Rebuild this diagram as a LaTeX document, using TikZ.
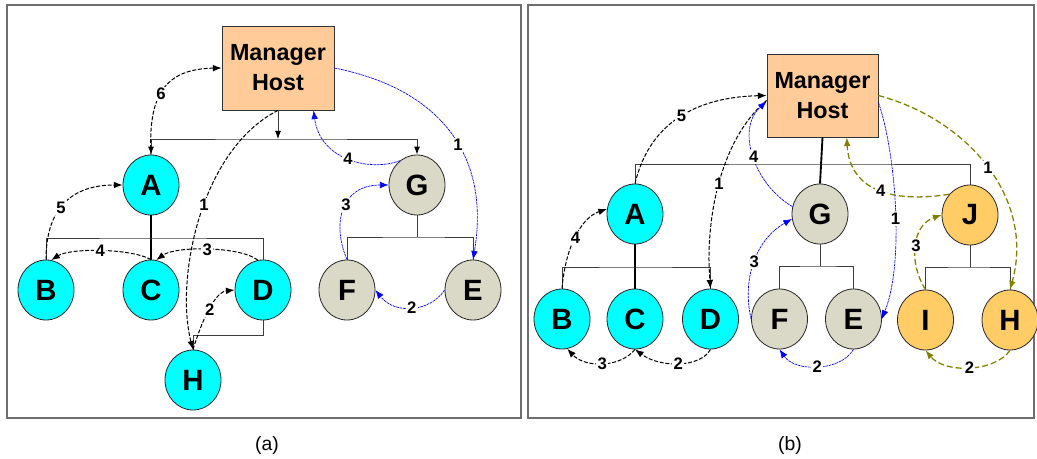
\documentclass[tikz,border=0pt]{standalone}
\usepackage{fontspec}
\setmainfont{Liberation Sans}
\usetikzlibrary{arrows.meta,shapes.geometric}
\definecolor{hostfill}{RGB}{255,204,153}
\definecolor{cyanfill}{RGB}{0,255,255}
\definecolor{grayfill}{RGB}{218,216,198}
\definecolor{goldfill}{RGB}{255,204,102}
\definecolor{olivec}{RGB}{128,128,0}
\definecolor{treec}{RGB}{60,60,60}
\definecolor{framec}{RGB}{110,110,110}
\tikzset{
  host/.style={draw=black!80,fill=hostfill,line width=0.6pt,minimum width=84pt,minimum height=63pt,
    align=center,inner sep=0pt,font=\fontsize{17.5}{22.5}\selectfont\bfseries},
  peer/.style={ellipse,draw=black!85,line width=0.6pt,minimum width=42pt,minimum height=45pt,
    inner sep=0pt,font=\fontsize{22}{24}\selectfont\bfseries},
  cpeer/.style={peer,fill=cyanfill},
  gpeer/.style={peer,fill=grayfill},
  ypeer/.style={peer,fill=goldfill},
  treeline/.style={draw=treec,line width=0.7pt},
  trunk/.style={draw=black,line width=1.4pt},
  treehead/.style={Latex[length=6pt,width=4.5pt,fill=black,color=black]},
  treetips/.style={{Latex[length=6pt,width=4.5pt,color=black]}-{Latex[length=6pt,width=4.5pt,color=black]}},
  msgend/.style={-{Latex[length=6.5pt,width=5pt]}},
  bk/.style={msgend,black,line width=0.75pt,dash pattern=on 3pt off 1.3pt},
  bl/.style={msgend,blue,line width=0.5pt,dash pattern=on 2pt off 0.6pt},
  ol/.style={msgend,olivec,line width=0.95pt,dash pattern=on 4.5pt off 2.2pt},
  lbl/.style={fill=white,inner sep=1pt,text=black,font=\fontsize{12.5}{12.5}\selectfont\bfseries},
  captxt/.style={font=\fontsize{14.5}{14.5}\selectfont},
  panelframe/.style={draw=framec,line width=1.2pt}
}
\begin{document}
\begin{tikzpicture}[x=0.75pt,y=-0.75pt]
\useasboundingbox (0,0) rectangle (1037,459);

% panel frames
\draw[panelframe] (7,5) rectangle (521,418);
\draw[panelframe] (528,5) rectangle (1034,418);

% ---------------- panel (a) ----------------
\node[host] (mA) at (278,68) {Manager\\Host};
\node[cpeer] (aA) at (151,185) {A};
\node[gpeer] (aG) at (417,185) {G};
\node[cpeer] (aB) at (46,290) {B};
\node[cpeer] (aC) at (151,290) {C};
\node[cpeer] (aD) at (263,290) {D};
\node[cpeer] (aH) at (193,380) {H};
\node[gpeer] (aF) at (347,290) {F};
\node[gpeer] (aE) at (473,290) {E};

\coordinate (aBus) at (278,139);
\coordinate (aBus2) at (151,238);
\coordinate (gBus) at (417,237);
\coordinate (dLoop) at (263,335);

\draw[treeline,-{Latex[length=6pt,width=4.5pt,color=black]}] (mA.south) -- (aBus);
\draw[treeline,treetips] (aA.north) |- (aBus) -| (aG.north);
\draw[trunk] (aA.south) -- (aC.north);
\draw[treeline] (aB.north) |- (aBus2) -| (aD.north);
\draw[treeline] (aD.south) -- (dLoop) -| (aH.north);
\draw[treeline] (aG.south) -- (gBus);
\draw[treeline] (aF.north) |- (gBus) -| (aE.north);

\draw[bk] (aA.north) .. controls (148,95) and (165,69) .. node[lbl,pos=0.45] {6} (mA.west);
\draw[bk] (aB.north) .. controls (46,210) and (70,185) .. node[lbl,pos=0.45] {5} (aA.west);
\draw[bk] (aC.north) .. controls (130,248) and (70,248) .. node[lbl] {4} (aB.80);
\draw[bk] (aD.100) .. controls (240,246) and (175,246) .. node[lbl] {3} (aC.80);
\draw[bk] (aH.north) .. controls (202,320) and (215,292) .. node[lbl] {2} (aD.west);
\draw[bk] (mA.south) .. controls (200,150) and (175,280) .. node[lbl,pos=0.45] {1} (aH.north);

\draw[bl] (mA.east) .. controls (445,90) and (490,160) .. node[lbl,pos=0.55] {1} (aE.north);
\draw[bl] (aG.125) .. controls (370,172) and (320,160) .. node[lbl] {4} (mA.-50);
\draw[bl] (aF.north) .. controls (332,225) and (340,185) .. node[lbl,pos=0.55] {3} (aG.west);
\draw[bl] (aE.west) .. controls (430,312) and (395,315) .. node[lbl] {2} (aF.east);

\node[captxt] (capA) at (267,445) {(a)};

% ---------------- panel (b) ----------------
\node[host,minimum width=83.25pt,minimum height=62.25pt] (mB) at (822.5,95.5) {Manager\\Host};
\node[cpeer] (bA) at (635,214) {A};
\node[gpeer] (bG) at (820,214) {G};
\node[ypeer] (bJ) at (970,215) {J};
\node[cpeer] (bB) at (562,319) {B};
\node[cpeer] (bC) at (635,319) {C};
\node[cpeer] (bD) at (710.5,319) {D};
\node[gpeer] (bF) at (779.5,319) {F};
\node[gpeer] (bE) at (853.5,319) {E};
\node[ypeer] (bI) at (925.5,320) {I};
\node[ypeer] (bH) at (1010,320) {H};

\coordinate (bBus) at (820,164);
\coordinate (bBusA) at (635,267);
\coordinate (bBusG) at (820,266);
\coordinate (bBusJ) at (970,267);

\draw[trunk] (mB.south) -- (bG.north);
\draw[treeline] (bA.north) |- (bBus) -| (bJ.north);
\draw[trunk] (bA.south) -- (bC.north);
\draw[treeline] (bB.north) |- (bBusA) -| (bD.north);
\draw[treeline] (bG.south) -- (bBusG);
\draw[treeline] (bF.north) |- (bBusG) -| (bE.north);
\draw[treeline] (bJ.south) -- (bBusJ);
\draw[treeline] (bI.north) |- (bBusJ) -| (bH.north);

\draw[bk] (bA.north) .. controls (650,120) and (700,97) .. node[lbl] {5} (mB.west);
\draw[bk] (mB.185) .. controls (720,140) and (705,220) .. node[lbl] {1} (bD.north);
\draw[bk] (bB.north) .. controls (565,250) and (580,218) .. node[lbl] {4} (bA.170);
\draw[bk] (bC.south) .. controls (620,368) and (585,368) .. node[lbl] {3} (bB.-80);
\draw[bk] (bD.south) .. controls (700,368) and (660,368) .. node[lbl] {2} (bC.south);

\draw[bl] (bG.165) .. controls (755,185) and (735,130) .. node[lbl] {4} (mB.186);
\draw[bl] (bF.west) .. controls (742,280) and (755,240) .. node[lbl] {3} (bG.190);
\draw[bl] (mB.-7) .. controls (895,150) and (905,260) .. node[lbl,pos=0.55] {1} (bE.east);
\draw[bl] (bE.south) .. controls (840,372) and (795,372) .. node[lbl] {2} (bF.south);

\draw[ol] (mB.east) .. controls (970,120) and (1035,200) .. node[lbl] {1} (bH.north);
\draw[ol] (bJ.135) .. controls (900,202) and (850,195) .. node[lbl] {4} (mB.-60);
\draw[ol] (bI.north) .. controls (908,262) and (912,225) .. node[lbl] {3} (bJ.west);
\draw[ol] (bH.south) .. controls (995,372) and (945,374) .. node[lbl] {2} (bI.south);

\node[captxt] (capB) at (790,445) {(b)};
\end{tikzpicture}
\end{document}
